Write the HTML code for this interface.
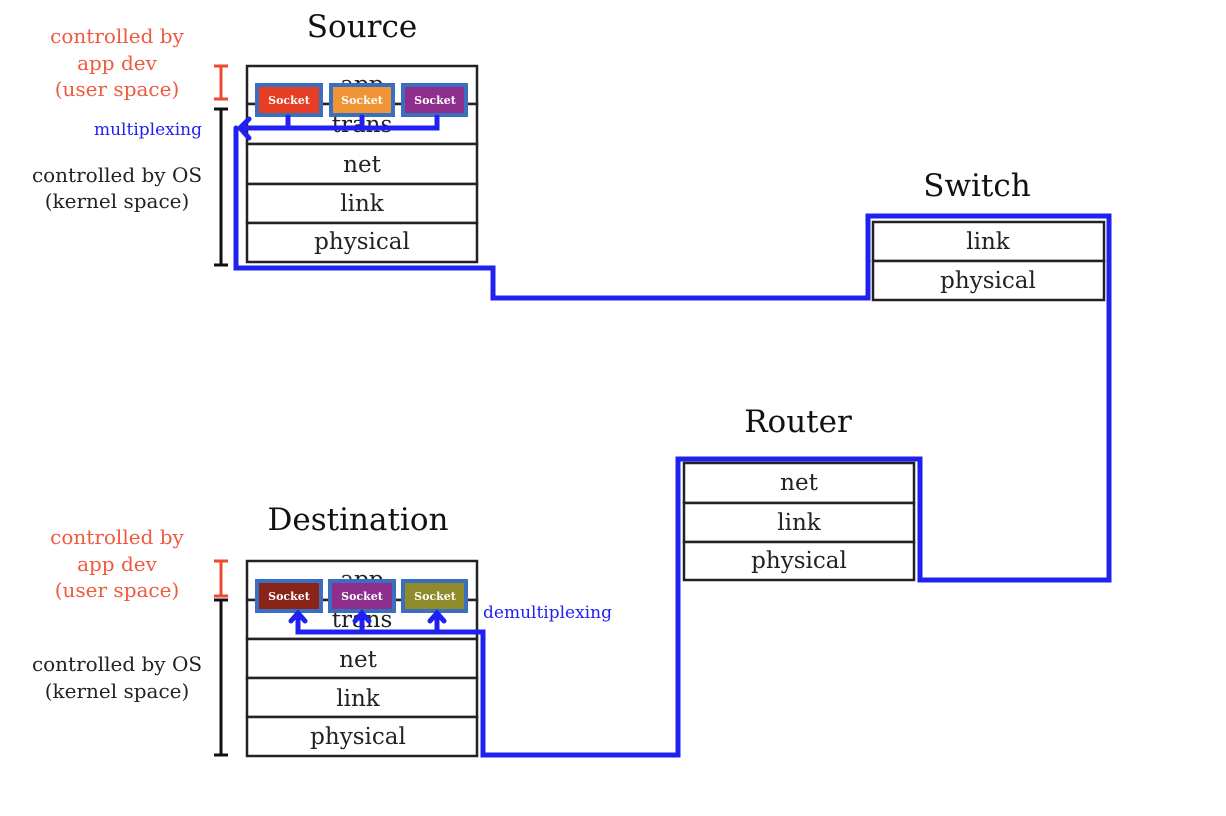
<!DOCTYPE html>
<html><head><meta charset="utf-8"><style>
html,body{margin:0;padding:0;background:#fff;}
svg{display:block;}
text{font-family:"DejaVu Serif","Liberation Serif",serif;}
</style></head><body>
<svg width="1226" height="816" viewBox="0 0 1226 816" xmlns="http://www.w3.org/2000/svg">
<rect width="1226" height="816" fill="#fff"/>
<g font-size="31" fill="#111" text-anchor="middle">
<text x="362" y="37">Source</text>
<text x="977" y="196">Switch</text>
<text x="798" y="432">Router</text>
<text x="358" y="530">Destination</text>
</g>
<g font-size="20" text-anchor="middle">
<text x="117" y="43" fill="#ee5a40">controlled by</text>
<text x="117" y="70" fill="#ee5a40">app dev</text>
<text x="117" y="96" fill="#ee5a40">(user space)</text>
<text x="117" y="182" fill="#222">controlled by OS</text>
<text x="117" y="208" fill="#222">(kernel space)</text>
<text x="117" y="544" fill="#ee5a40">controlled by</text>
<text x="117" y="571" fill="#ee5a40">app dev</text>
<text x="117" y="597" fill="#ee5a40">(user space)</text>
<text x="117" y="671" fill="#222">controlled by OS</text>
<text x="117" y="698" fill="#222">(kernel space)</text>
</g>
<g font-size="17" fill="#2222ee">
<text x="202" y="135" text-anchor="end">multiplexing</text>
<text x="483" y="618">demultiplexing</text>
</g>
<g stroke="#ee4a30" stroke-width="3">
<line x1="221" y1="66" x2="221" y2="99"/><line x1="214" y1="66" x2="228" y2="66"/><line x1="214" y1="99" x2="228" y2="99"/>
<line x1="221" y1="561" x2="221" y2="596"/><line x1="214" y1="561" x2="228" y2="561"/><line x1="214" y1="596" x2="228" y2="596"/>
</g>
<g stroke="#111" stroke-width="3">
<line x1="221" y1="109" x2="221" y2="265"/><line x1="214" y1="109" x2="228" y2="109"/><line x1="214" y1="265" x2="228" y2="265"/>
<line x1="221" y1="600" x2="221" y2="755"/><line x1="214" y1="600" x2="228" y2="600"/><line x1="214" y1="755" x2="228" y2="755"/>
</g>
<g fill="#fff" stroke="#222" stroke-width="2.5">
<rect x="247" y="66" width="230" height="38"/><rect x="247" y="104" width="230" height="40"/><rect x="247" y="144" width="230" height="40"/><rect x="247" y="184" width="230" height="39"/><rect x="247" y="223" width="230" height="39"/>
<rect x="873" y="222" width="231" height="39"/><rect x="873" y="261" width="231" height="39"/>
<rect x="684" y="463" width="230" height="40"/><rect x="684" y="503" width="230" height="39"/><rect x="684" y="542" width="230" height="38"/>
<rect x="247" y="561" width="230" height="39"/><rect x="247" y="600" width="230" height="39"/><rect x="247" y="639" width="230" height="39"/><rect x="247" y="678" width="230" height="39"/><rect x="247" y="717" width="230" height="39"/>
</g>
<g font-size="23" fill="#222" text-anchor="middle">
<text x="362" y="92">app</text><text x="362" y="132">trans</text><text x="362" y="172">net</text><text x="362" y="211">link</text><text x="362" y="249">physical</text>
<text x="988" y="249">link</text><text x="988" y="288">physical</text>
<text x="799" y="490">net</text><text x="799" y="530">link</text><text x="799" y="568">physical</text>
<text x="362" y="587">app</text><text x="362" y="627">trans</text><text x="358" y="667">net</text><text x="358" y="706">link</text><text x="358" y="744">physical</text>
</g>
<g stroke="#3a6fbf" stroke-width="4">
<rect x="257" y="85" width="64" height="30" fill="#e53e25"/>
<rect x="331" y="85" width="62" height="30" fill="#ef9535"/>
<rect x="403" y="85" width="63" height="30" fill="#8e2f8e"/>
<rect x="257" y="581" width="64" height="30" fill="#8a2418"/>
<rect x="330" y="581" width="64" height="30" fill="#8e2f8e"/>
<rect x="403" y="581" width="63" height="30" fill="#8f8a2a"/>
</g>
<g font-size="11" font-weight="bold" fill="#fff" text-anchor="middle">
<text x="289" y="104">Socket</text><text x="362" y="104">Socket</text><text x="435" y="104">Socket</text>
<text x="289" y="600">Socket</text><text x="362" y="600">Socket</text><text x="435" y="600">Socket</text>
</g>
<g fill="none" stroke="#2020f0" stroke-width="5" stroke-linejoin="miter" stroke-linecap="round">
<path d="M288 117 V128 M362 117 V128 M437 117 V128 H240 M249 119 L240 128 L249 138"/>
<path d="M236 128 V268 H493 V298 H868 V216 H1109 V580 H920 V459 H678 V755 H483 V632 H298 V614"/>
<path d="M362 632 V614 M437 632 V614"/>
<path d="M291 621 L298 613 L305 621 M355 621 L362 613 L369 621 M430 621 L437 613 L444 621"/>
</g>
</svg>
</body></html>
